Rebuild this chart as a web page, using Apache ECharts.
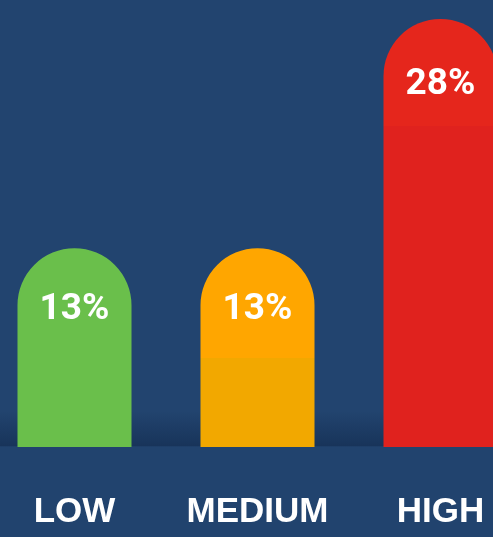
<!DOCTYPE html>
<html lang="en">
<head>
    <meta charset="UTF-8">
    <title>Risk levels</title>
    <script src="https://cdn.jsdelivr.net/npm/echarts@6/dist/echarts.min.js"></script>
    <style>
        html, body { margin: 0; padding: 0; background: #21436e; overflow: hidden; }
        /* the plot runs past both window edges (HIGH bar is cut on the right) */
        #main { width: 549px; height: 537px; margin-left: -17.5px; }
    </style>
</head>
<body>
<div id="main"></div>
<script>
    var categories = ['LOW', 'MEDIUM', 'HIGH'];
    var values = [13, 13, 28];

    // top shade / lower shade and where the shade changes (0 = bar top)
    var topColors = ['#6abf4b', '#ffa600', '#e5261c'];
    var lowColors = ['#6abf4b', '#f2a800', '#e0221e'];
    var shadeAt = [0.5, 0.55, 0.25];
    var labelGap = [43, 43, 47];

    var barData = values.map(function (v, i) {
        return {
            value: v,
            label: {distance: labelGap[i]},
            itemStyle: {
                color: new echarts.graphic.LinearGradient(0, 0, 0, 1, [
                    {offset: 0, color: topColors[i]},
                    {offset: shadeAt[i], color: topColors[i]},
                    {offset: shadeAt[i] + 0.001, color: lowColors[i]},
                    {offset: 1, color: lowColors[i]}
                ])
            }
        };
    });

    var myChart = echarts.init(document.getElementById('main'));
    var option = {
        // dark band just above the baseline
        backgroundColor: new echarts.graphic.LinearGradient(0, 0, 0, 1, [
            {offset: 0, color: '#22446f'},
            {offset: 0.765, color: '#22446f'},
            {offset: 0.83, color: '#18345a'},
            {offset: 0.8321, color: '#21436e'},
            {offset: 1, color: '#21436e'}
        ]),
        animation: false,
        grid: {
            left: 0,
            right: 0,
            top: 19,
            bottom: 90
        },
        xAxis: {
            type: 'category',
            data: categories,
            axisLine: {show: false},
            axisTick: {show: false},
            axisLabel: {
                interval: 0,
                color: '#ffffff',
                fontFamily: 'Liberation Sans',
                fontWeight: 'bold',
                fontSize: 35,
                margin: 48
            }
        },
        yAxis: {
            type: 'value',
            min: 0,
            max: 28,
            show: false
        },
        series: [
            {
                type: 'bar',
                barWidth: 114,
                data: barData,
                itemStyle: {
                    borderRadius: [57, 57, 0, 0]
                },
                label: {
                    show: true,
                    position: 'insideTop',
                    formatter: '{c}%',
                    color: '#ffffff',
                    fontFamily: 'Roboto',
                    fontWeight: 'bold',
                    fontSize: 37
                }
            }
        ]
    };
    myChart.setOption(option);
</script>
</body>
</html>
